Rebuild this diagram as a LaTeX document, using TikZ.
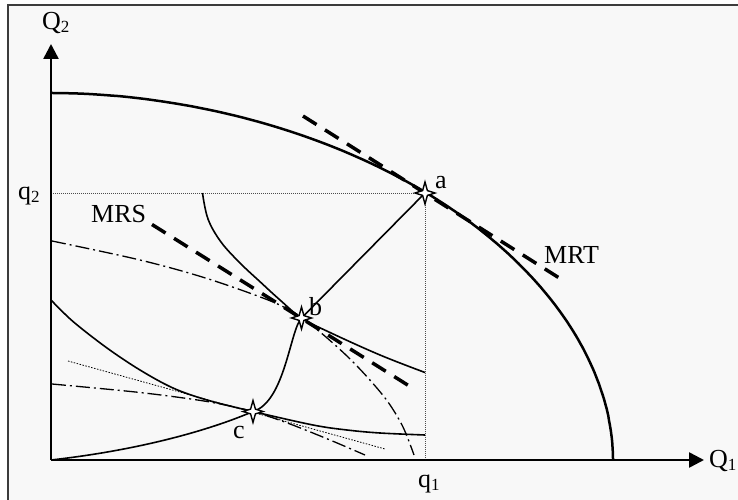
\documentclass[tikz,border=0pt]{standalone}
\usepackage{fontspec}
\setmainfont{Liberation Serif}
\usetikzlibrary{arrows.meta}
\definecolor{bgc}{RGB}{248,248,248}
\definecolor{framec}{RGB}{60,60,60}
\newcommand\lowsub[1]{{\fontsize{17}{17}\selectfont\raisebox{-3pt}{#1}}}
\begin{document}
\begin{tikzpicture}[x=1pt,y=-1pt,
  lbl/.style={anchor=base west, inner sep=0pt, font=\fontsize{26}{30}\selectfont},
  axis/.style={line width=2.5pt, -{Triangle[length=15pt,width=15pt]}},
  thickc/.style={line width=2.5pt},
  thinc/.style={line width=1.6pt},
  guide/.style={line width=0.8pt, dash pattern=on 1pt off 1pt, black!70},
  tang/.style={line width=3.5pt, dash pattern=on 16pt off 10pt},
  dashdot/.style={line width=1.3pt, dash pattern=on 14pt off 4pt on 2pt off 4pt},
  fdot/.style={line width=0.8pt, dash pattern=on 1.5pt off 1.5pt},
  star4/.pic={\draw[line width=1.4pt, fill=white] (0,-11) -- (2.4,-2.4) -- (10,0) -- (2.4,2.4) -- (0,11) -- (-2.4,2.4) -- (-10,0) -- (-2.4,-2.4) -- cycle;}
]
\useasboundingbox (0,0) rectangle (738,500);
\fill[white] (0,0) rectangle (738,500);
\draw[framec, line width=1.5pt, fill=bgc] (8,5) rectangle (760,520);

\coordinate (O) at (51,460);
\coordinate (a) at (425,193);
\coordinate (b) at (301.5,318);
\coordinate (c) at (253,411.5);
\coordinate (ytip) at (51,44);
\coordinate (xtip) at (704,460);
\coordinate (q2pt) at (51,193);
\coordinate (q1pt) at (425,460);
\coordinate (t1) at (68,361);
\coordinate (t2) at (385,449);
\coordinate (m1) at (152,224.5);
\coordinate (m2) at (414,389);
\coordinate (r1) at (303,116);
\coordinate (r2) at (564,281);

% guides
\draw[guide] (q2pt) -- (a);
\draw[guide] (a) -- (q1pt);

% production possibility frontier
\draw[thickc] plot[domain=0.01:89.99, samples=150, variable=\t]
  ({51+562*pow(cos(\t),1.036)}, {460-367*pow(sin(\t),1.036)});

% dash-dot curves
\draw[dashdot] plot[smooth, tension=0.55] coordinates
  {(52,241) (140,260) (207,278.5) (273,302) (301.5,318) (323,334.5) (348,357) (369,379) (388,402) (403,427) (414,455)};
\draw[dashdot] plot[smooth, tension=0.5] coordinates
  {(52,384) (140,392.5) (207,401.5) (253,411.5) (290,424) (330,440) (365,455)};

% indifference curves
\draw[thinc] plot[smooth, tension=0.6] coordinates
  {(202.5,193) (208,219) (221,242) (240,263) (260,281.7) (280,300) (301.5,318) (330,332.5) (380,355) (425,372.5)};
\draw[thinc] plot[smooth, tension=0.55] coordinates
  {(51,300) (73,321.5) (107,348) (140,370) (173,388) (207,400) (253,411.5) (313,425) (347,430) (380,433) (425,435)};

% tangents
\draw[fdot] (t1) -- (t2);
\draw[tang] (m1) -- (m2);
\draw[tang] (r1) -- (r2);

% expansion path
\draw[thinc] (O) .. controls (140,450) and (210,430) .. (c)
  .. controls (285,402) and (290,330) .. (b) -- (a);

% axes
\draw[axis] (O) -- (ytip);
\draw[axis] (O) -- (xtip);

% points
\pic at (a) {star4};
\pic at (b) {star4};
\pic at (c) {star4};

% labels
\node[lbl] (Q2) at (42,30) {Q\lowsub{2}};
\node[lbl] (Q1) at (709,467) {Q\lowsub{1}};
\node[lbl] (q2) at (18,199) {q\lowsub{2}};
\node[lbl] (q1) at (418,487) {q\lowsub{1}};
\node[lbl] (mrs) at (91,222) {MRS};
\node[lbl] (mrt) at (544,263) {MRT};
\node[lbl] (la) at (435,188) {a};
\node[lbl] (lb) at (309,315) {b};
\node[lbl] (lc) at (233,438) {c};
\end{tikzpicture}
\end{document}
